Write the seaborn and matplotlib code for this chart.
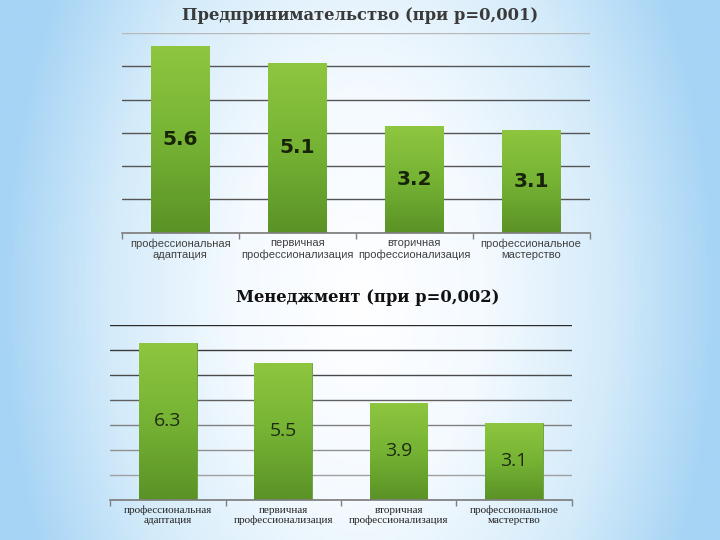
import numpy as np
import pandas as pd
import matplotlib
matplotlib.use("Agg")
import matplotlib.pyplot as plt
import seaborn as sns
from matplotlib.colors import LinearSegmentedColormap

categories = ["профессиональная\nадаптация", "первичная\nпрофессионализация",
              "вторичная\nпрофессионализация", "профессиональное\nмастерство"]
values_top = [5.6, 5.1, 3.2, 3.1]
values_bottom = [6.3, 5.5, 3.9, 3.1]
title_top = "Предпринимательство (при p=0,001)"
title_bottom = "Менеджмент (при p=0,002)"

sns.set_theme(style="white")
plt.rcParams['font.family'] = ['DejaVu Sans']

fig = plt.figure(figsize=(7.2, 5.4), dpi=100)

# background gradient
bg = fig.add_axes([0, 0, 1, 1], zorder=-10)
yy, xx = np.mgrid[0:1:200j, 0:1:200j]
d = np.sqrt(((xx - 0.5) / 0.5) ** 2 + ((yy - 0.55) / 1.1) ** 2)
bg_cmap = LinearSegmentedColormap.from_list(
    "bg", [(0, "#ffffff"), (0.35, "#f4faff"), (0.7, "#d4ebfa"), (1.0, "#a6d4f5")])
bg.imshow(np.clip(d, 0, 1), cmap=bg_cmap, aspect="auto", extent=[0, 1, 0, 1], vmin=0, vmax=1)
bg.axis("off")

green = LinearSegmentedColormap.from_list("g", ["#5a9226", "#76b334", "#8ec63f"])
grad = np.linspace(0, 1, 256).reshape(-1, 1)


def draw(ax, vals, ymax, title, tfont, tcolor, lfont, label_bold, label_color, vcolor, title_xy,
         grid_colors):
    df = pd.DataFrame({"cat": categories, "val": vals})
    sns.barplot(data=df, x="cat", y="val", ax=ax, width=0.5, color="#7ab838",
                edgecolor="#6a9e35", linewidth=0.6, zorder=3)
    for p in ax.patches:
        x0, y0 = p.get_x(), p.get_y()
        w, h = p.get_width(), p.get_height()
        im = ax.imshow(grad, cmap=green, aspect="auto", extent=[x0, x0 + w, y0, y0 + h],
                       origin="lower", zorder=3.5)
        im.set_clip_path(p)
        ax.text(x0 + w / 2, y0 + h / 2, f"{h:.1f}", ha="center", va="center",
                fontsize=14.5 if label_bold else 14,
                fontweight="bold" if label_bold else "normal",
                color=vcolor, zorder=5, family=["DejaVu Sans"] if label_bold else ["Open Sans"])
    ax.set_xlim(-0.5, 3.5)
    ax.set_ylim(0, ymax)
    ax.patch.set_alpha(0)
    ax.set_yticks(range(0, ymax + 1))
    ax.set_yticklabels([])
    ax.tick_params(axis="y", length=0)
    ax.grid(axis="y", color="#4a4a4a", linewidth=1.0, zorder=1)
    for gl, c in zip(ax.get_ygridlines(), grid_colors):
        gl.set_color(c)
    ax.set_axisbelow(True)
    for s in ["top", "right", "left"]:
        ax.spines[s].set_visible(False)
    ax.spines["bottom"].set_color("#7f7f7f")
    ax.spines["bottom"].set_zorder(6)
    ax.set_xticks(range(4))
    ax.set_xticklabels(categories, fontsize=8, color=label_color, family=lfont, linespacing=1.1)
    ax.set_xticks([-0.5, 0.5, 1.5, 2.5, 3.5], minor=True)
    ax.tick_params(axis="x", which="major", length=0, pad=4)
    ax.tick_params(axis="x", which="minor", length=4, color="#7f7f7f", width=1, direction="out",
                   bottom=True)
    ax.set_xlabel("")
    ax.set_ylabel("")
    fig.text(title_xy[0], title_xy[1], title, ha="center", va="center", fontsize=11.8,
             fontweight="bold", color=tcolor, family=tfont)


ax1 = fig.add_axes([0.169, 0.569, 0.650, 0.370])
draw(ax1, values_top, 6, title_top, ["DejaVu Serif"], "#3a3a3a", ["Liberation Sans"], True,
     "#404040", "#17240a", (0.500, 0.972),
     ["#7f7f7f", "#555555", "#555555", "#555555", "#555555", "#555555", "#b8b8b8"])

ax2 = fig.add_axes([0.153, 0.074, 0.641, 0.324])
draw(ax2, values_bottom, 7, title_bottom, ["DejaVu Serif"], "#111111", ["Liberation Serif"], False,
     "#222222", "#1f2b12", (0.511, 0.450),
     ["#7f7f7f", "#a0a0a0", "#909090", "#808080", "#606060", "#4a4a4a", "#3a3a3a", "#2a2a2a"])

fig.savefig("out.png", dpi=100)
